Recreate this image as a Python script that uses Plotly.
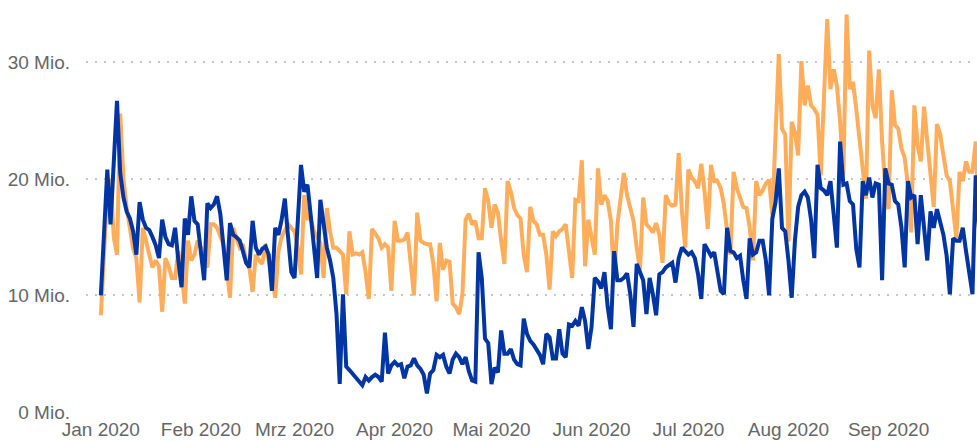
import pandas as pd
import plotly.graph_objects as go

# Daily values (millions), 2020-01-01 onward
current_year = [
    10.0, 15.5, 20.8, 16.1, 21.5, 26.7, 20.5, 18.4, 17.2, 16.6,
    15.5, 13.5, 18.0, 16.5, 15.8, 15.6, 15.0, 14.3, 13.2, 16.5,
    15.0, 14.4, 14.3, 15.8, 13.0, 10.7, 16.6, 15.2, 18.5, 16.4,
    16.1, 13.8, 11.3, 17.9, 17.5, 17.8, 18.5, 17.0, 14.3, 11.3,
    16.2, 15.2, 15.0, 14.7, 13.8, 12.8, 12.4, 16.4, 14.1, 13.5,
    14.0, 14.2, 13.5, 10.4, 15.8, 15.2, 16.5, 18.3, 15.0, 12.0,
    11.5, 17.0, 21.2, 18.9, 19.5, 16.9, 14.1, 11.5, 18.2, 16.4,
    14.1, 13.0, 11.5, 8.4, 2.4, 10.1, 3.9, 3.6, 3.3, 3.0,
    2.6, 2.3, 3.0, 2.7, 3.0, 3.2, 3.0, 2.6, 6.8, 3.3,
    4.0, 4.3, 4.0, 4.1, 2.9, 3.9, 4.0, 4.6, 4.0, 3.7,
    3.2, 1.6, 3.3, 3.6, 4.9, 4.7, 4.9, 3.9, 3.3, 4.5,
    5.0, 4.7, 4.1, 4.7, 3.5, 2.7, 2.6, 13.7, 11.5, 6.3,
    5.9, 2.4, 3.8, 3.4, 7.0, 5.0, 5.0, 5.4, 4.5, 4.1,
    4.0, 8.0, 6.7, 6.1, 5.8, 5.4, 4.9, 4.1, 6.7, 6.4,
    4.6, 4.6, 7.1, 5.0, 4.7, 7.5, 7.4, 7.8, 7.4, 9.0,
    7.8, 5.4, 7.3, 11.5, 11.2, 10.6, 12.0, 9.0, 7.1, 13.8,
    11.3, 11.3, 11.5, 11.9, 10.1, 7.3, 12.7, 12.0, 11.3, 8.4,
    11.5, 10.1, 8.3, 11.8, 12.0, 12.4, 12.6, 12.8, 11.1, 13.2,
    14.1, 13.8, 13.5, 13.7, 13.2, 11.8, 9.7, 14.4, 13.8, 13.4,
    13.7, 12.1, 10.4, 10.1, 15.8, 13.8, 13.7, 13.2, 13.4, 11.3,
    9.7, 14.9, 13.5, 13.7, 14.7, 14.7, 13.0, 10.0, 16.6, 18.0,
    20.9, 15.8, 15.5, 13.0, 9.8, 14.7, 17.6, 18.6, 18.9, 18.4,
    16.5, 13.2, 21.2, 19.2, 19.0, 18.6, 19.8, 17.0, 14.1, 23.2,
    19.5, 19.6, 18.1, 17.8, 14.0, 12.4, 19.8, 18.6, 20.1, 18.4,
    19.6, 19.5, 11.3, 20.9, 19.6, 19.5, 18.1, 17.8, 15.8, 12.4,
    19.8, 18.4, 18.6, 14.4, 18.6, 15.8, 13.0, 17.2, 15.8, 17.4,
    16.1, 15.2, 13.4, 10.1, 14.9, 14.7, 14.7, 15.8, 13.8, 12.0,
    10.1, 20.3, 15.8,
]

previous_year = [
    8.3, 14.0, 19.0, 20.0, 15.0, 13.5, 25.6, 20.0, 17.5, 15.8,
    14.0, 13.2, 9.4, 15.8, 14.5, 13.5, 12.4, 13.0, 12.5, 8.6,
    13.2, 12.5, 11.5, 11.5, 13.8, 12.0, 9.3, 14.7, 13.0, 13.5,
    14.7, 14.1, 12.8, 12.4, 16.1, 16.1, 15.8, 15.0, 14.4, 12.4,
    9.8, 15.8, 15.0, 14.1, 14.4, 13.0, 12.4, 10.3, 13.5, 13.0,
    12.7, 14.4, 13.0, 11.8, 9.8, 13.8, 15.0, 15.5, 16.1, 15.8,
    15.5, 14.1, 11.8, 18.6, 16.6, 16.6, 15.5, 15.0, 14.5, 11.5,
    17.5, 15.5, 14.1, 14.1, 13.8, 13.5, 10.1, 15.5, 13.5, 13.6,
    13.5, 13.7, 12.0, 9.7, 15.7, 15.3, 14.9, 14.1, 14.4, 14.1,
    10.4, 16.4, 14.7, 14.7, 14.8, 15.4, 12.4, 10.0, 17.1, 14.7,
    14.5, 14.4, 14.4, 12.7, 9.5, 14.5, 12.2, 13.0, 12.9, 9.3,
    9.0, 8.4, 10.1, 16.5, 17.0, 16.1, 16.4, 14.9, 14.9, 19.2,
    18.1, 15.8, 17.8, 17.1, 14.7, 12.7, 19.8, 18.9, 17.5, 16.9,
    16.6, 13.5, 12.0, 17.6, 16.4, 16.1, 15.2, 15.2, 13.5, 10.5,
    15.5, 15.1, 15.5, 15.7, 16.1, 14.0, 11.5, 18.2, 18.1, 21.6,
    12.5, 16.5, 15.2, 13.5, 20.9, 17.8, 18.6, 18.1, 16.4, 11.3,
    16.1, 18.4, 20.5, 18.6, 17.5, 16.4, 14.1, 12.2, 18.4, 16.1,
    15.8, 15.4, 16.2, 15.2, 12.8, 18.6, 17.9, 17.7, 17.8, 22.2,
    17.2, 14.1, 20.8, 20.1, 19.8, 19.2, 21.3, 18.9, 15.7, 21.2,
    19.8, 19.8, 19.2, 17.8, 15.5, 13.5, 20.6, 19.2, 18.4, 17.6,
    17.5, 15.8, 13.0, 19.8, 18.6, 19.0, 19.6, 19.9, 16.9, 24.3,
    30.7, 24.3, 23.8, 14.6, 24.9, 24.0, 22.0, 30.1, 26.3, 28.0,
    26.3, 26.0, 25.5, 20.3, 26.6, 33.7, 27.7, 29.4, 28.0, 24.9,
    20.3, 34.1, 27.7, 28.3, 26.0, 23.5, 21.0, 18.3, 31.0, 26.3,
    25.2, 29.4, 23.2, 19.2, 17.4, 27.6, 24.6, 24.3, 22.6, 21.8,
    19.5, 15.4, 26.3, 22.9, 21.5, 26.2, 23.2, 20.0, 17.6, 24.7,
    23.8, 22.0, 20.3, 19.8, 17.5, 14.9, 20.6, 19.8, 21.5, 20.6,
    20.6, 23.2, 16.6,
]

month_ticks = ["2020-01-01", "2020-02-01", "2020-03-01", "2020-04-01", "2020-05-01",
               "2020-06-01", "2020-07-01", "2020-08-01", "2020-09-01"]
month_labels = ["Jan 2020", "Feb 2020", "Mrz 2020", "Apr 2020", "Mai 2020",
                "Jun 2020", "Jul 2020", "Aug 2020", "Sep 2020"]
y_ticks = [0, 10, 20, 30]
y_labels = ["0 Mio.", "10 Mio.", "20 Mio.", "30 Mio."]

dates_cur = pd.date_range("2020-01-01", periods=len(current_year), freq="D")
dates_prev = pd.date_range("2020-01-01", periods=len(previous_year), freq="D")

fig = go.Figure()
fig.add_trace(go.Scatter(x=dates_prev, y=previous_year, mode="lines",
                         line=dict(color="#FFAD5B", width=4), name="Vorjahr"))
fig.add_trace(go.Scatter(x=dates_cur, y=current_year, mode="lines",
                         line=dict(color="#0035A3", width=4), name="Aktuell"))

font = dict(family="Arial, Liberation Sans, sans-serif", size=19, color="#666666")
fig.update_layout(
    width=977, height=441,
    margin=dict(l=86, r=0, t=4, b=29),
    paper_bgcolor="white", plot_bgcolor="white",
    showlegend=False,
    font=font,
    xaxis=dict(type="date", range=["2019-12-27 09:36", "2020-09-28 09:36"],
               tickvals=month_ticks, ticktext=month_labels, showgrid=False,
               zeroline=False, showline=False, ticks="", tickfont=font,
               ticklabelstandoff=4),
    yaxis=dict(range=[0, 35], tickvals=y_ticks, ticktext=y_labels,
               showgrid=True, gridcolor="#C8C8C8", griddash="2px,7px", gridwidth=1.5,
               zeroline=False, showline=False, ticks="", tickfont=font,
               ticklabelstandoff=15),
)
fig.write_html("out.html",
               config={"displayModeBar": False, "staticPlot": False},
               post_script="document.body.style.margin='0';document.body.style.overflow='hidden';")
